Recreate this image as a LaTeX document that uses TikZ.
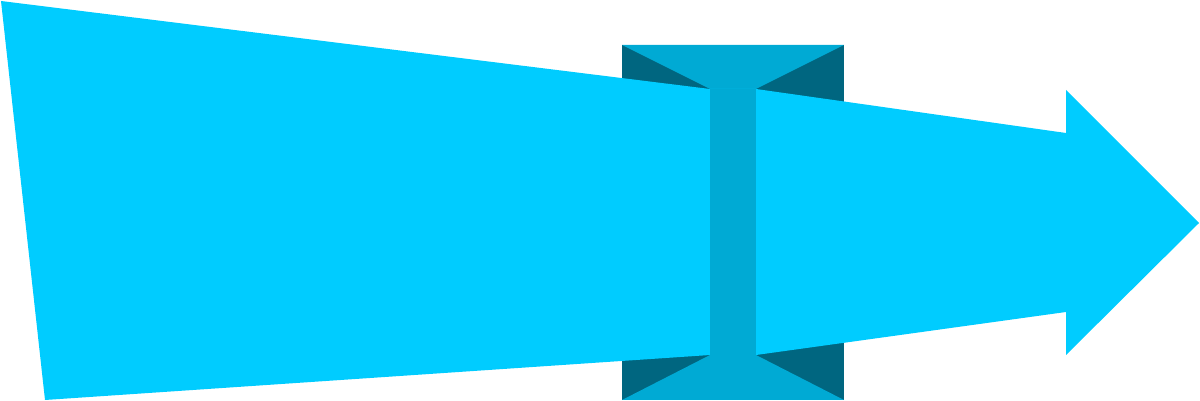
\documentclass[tikz,border=0pt]{standalone}
\usepackage{xcolor}

\definecolor{arrowblue}{HTML}{00CCFF}
\definecolor{beammid}{HTML}{00AAD4}
\definecolor{beamdark}{HTML}{006680}

\begin{document}
\begin{tikzpicture}[x=0.02cm, y=-0.02cm]
  % Fix the page size
  \useasboundingbox (0,0) rectangle (1200,401);

  % Dark block behind the arrow
  \fill[beamdark] (622,45) rectangle (844,400);

  % Lighter I-beam on the block
  \fill[beammid] (622,45) -- (844,45) -- (756,89) -- (756,355) -- (844,400)
    -- (622,400) -- (710,355) -- (710,89) -- cycle;

  % The big tapered arrow, bent where it meets the beam
  \fill[arrowblue] (1,1) -- (710,89) -- (756,89) -- (1066,133) -- (1066,90)
    -- (1199,223) -- (1066,355) -- (1066,312) -- (756,355) -- (710,355)
    -- (45,400) -- cycle;

  % Stem of the I-beam shows over the arrow
  \fill[beammid] (710,89) rectangle (756,355);
\end{tikzpicture}
\end{document}
